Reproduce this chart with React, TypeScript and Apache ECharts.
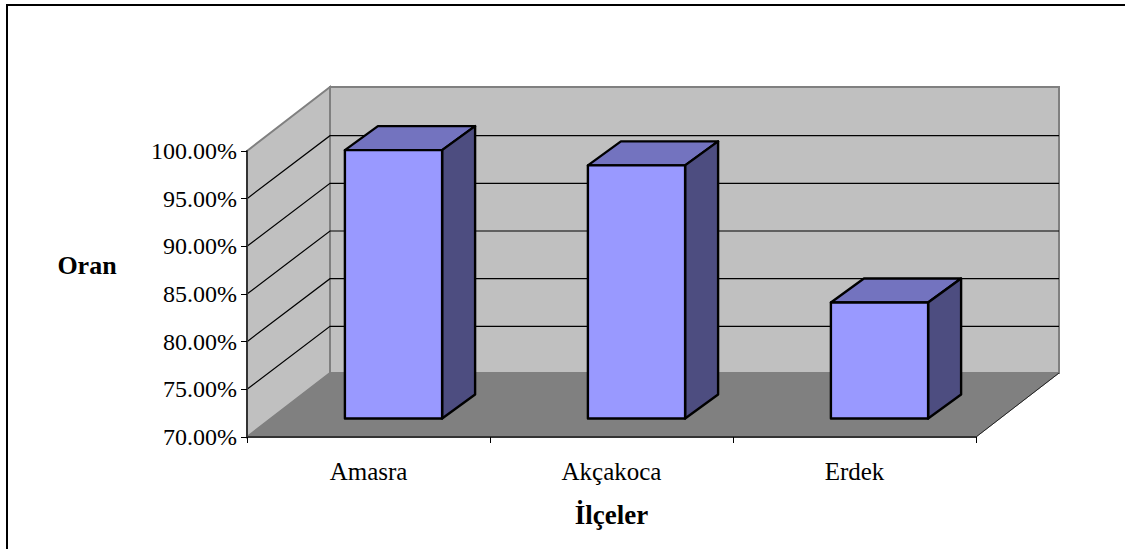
import React, { useEffect, useRef } from "react";
import * as echarts from "echarts";

const categories = ["Amasra", "Akçakoca", "Erdek"];
const values = [98.15, 96.55, 82.17];
const gridTicks = [75, 80, 85, 90, 95];
const yMin = 70;
const yMax = 100;
const yStep = 5;

const DX = 83;
const DY = -64;
const GRID_DY = -63;
const BAR_DX = 25;
const BAR_DY = -18.5;
const BAR_DEPTH_X = 33;
const BAR_DEPTH_Y = -24;
const FONT = '"Liberation Serif", "Times New Roman", serif';

export default function App() {
  const ref = useRef<HTMLDivElement>(null);
  useEffect(() => {
    const chart = echarts.init(ref.current!, undefined, { renderer: "svg" });
    chart.setOption({
      animation: false,
      backgroundColor: "#ffffff",
      grid: { left: 247, right: 149, top: 151, bottom: 112, containLabel: false },
      graphic: [
        {
          type: "polyline",
          shape: { points: [[7, 549], [7, 5], [1125, 5]] },
          style: { stroke: "#000", lineWidth: 2, fill: "none" },
          silent: true,
        },
        {
          type: "text",
          x: 87,
          y: 265,
          silent: true,
          style: {
            text: "Oran",
            fontFamily: FONT,
            fontSize: 26,
            fontWeight: "bold",
            fill: "#000",
            align: "center",
            verticalAlign: "middle",
          },
        },
      ],
      xAxis: {
        type: "category",
        data: categories,
        z: 6,
        name: "İlçeler",
        nameLocation: "middle",
        nameGap: 64,
        nameTextStyle: { fontFamily: FONT, fontSize: 27, fontWeight: "bold", color: "#000" },
        axisLine: { show: true, lineStyle: { color: "#333", width: 2 } },
        axisTick: { show: true, alignWithLabel: false, length: 6, lineStyle: { color: "#000" } },
        axisLabel: { fontFamily: FONT, fontSize: 25, color: "#000", margin: 22 },
      },
      yAxis: {
        type: "value",
        min: yMin,
        max: yMax,
        interval: yStep,
        z: 6,
        splitLine: { show: false },
        axisLine: { show: true, onZero: false, lineStyle: { color: "#333", width: 2 } },
        axisTick: { show: true, length: 6, lineStyle: { color: "#000" } },
        axisLabel: {
          fontFamily: FONT,
          fontSize: 24,
          color: "#000",
          margin: 10,
          formatter: (v: number) => v.toFixed(2) + "%",
        },
      },
      series: [
        {
          type: "custom",
          z: 1,
          silent: true,
          data: [[0, yMin]],
          renderItem: (params: any) => {
            const { x, y, width: w, height: h } = params.coordSys;
            const gray = "#808080";
            return {
              type: "group",
              children: [
                {
                  type: "polygon",
                  shape: { points: [[x + DX, y + DY], [x + w + DX, y + DY], [x + w + DX, y + h + DY], [x + DX, y + h + DY]] },
                  style: { fill: "#C0C0C0", stroke: gray, lineWidth: 2 },
                },
                {
                  type: "polygon",
                  shape: { points: [[x, y], [x + DX, y + DY], [x + DX, y + h + DY], [x, y + h]] },
                  style: { fill: "#C0C0C0", stroke: gray, lineWidth: 2 },
                },
                {
                  type: "polygon",
                  shape: { points: [[x, y + h], [x + DX, y + h + DY], [x + w + DX, y + h + DY], [x + w, y + h]] },
                  style: { fill: "#808080", stroke: gray, lineWidth: 1 },
                },
                {
                  type: "line",
                  shape: { x1: x + w, y1: y + h, x2: x + w + DX, y2: y + h + DY },
                  style: { stroke: "#222", lineWidth: 1 },
                },
              ],
            };
          },
        },
        {
          type: "custom",
          z: 2,
          silent: true,
          data: gridTicks.map((t) => [0, t]),
          renderItem: (params: any, api: any) => {
            const { x, width: w } = params.coordSys;
            const py = api.coord([0, api.value(1)])[1];
            return {
              type: "polyline",
              shape: { points: [[x, py], [x + DX, py + GRID_DY], [x + w + DX, py + GRID_DY]] },
              style: { stroke: "#000", lineWidth: 1.2, fill: "none" },
            };
          },
        },
        {
          type: "custom",
          z: 3,
          silent: true,
          data: values.map((v, i) => [i, v]),
          renderItem: (params: any, api: any) => {
            const top = api.coord([api.value(0), api.value(1)]);
            const base = api.coord([api.value(0), yMin]);
            const bw = api.size([1, 0])[0] * 0.4;
            const l = top[0] + BAR_DX - bw / 2;
            const r = l + bw;
            const t = top[1] + BAR_DY;
            const b = base[1] + BAR_DY;
            const stroke = { stroke: "#000", lineWidth: 2.4, lineJoin: "round" };
            return {
              type: "group",
              children: [
                {
                  type: "polygon",
                  shape: { points: [[l, t], [l + BAR_DEPTH_X, t + BAR_DEPTH_Y], [r + BAR_DEPTH_X, t + BAR_DEPTH_Y], [r, t]] },
                  style: { fill: "#7373BF", ...stroke },
                },
                {
                  type: "polygon",
                  shape: { points: [[r, t], [r + BAR_DEPTH_X, t + BAR_DEPTH_Y], [r + BAR_DEPTH_X, b + BAR_DEPTH_Y], [r, b]] },
                  style: { fill: "#4D4D80", ...stroke },
                },
                {
                  type: "polygon",
                  shape: { points: [[l, t], [r, t], [r, b], [l, b]] },
                  style: { fill: "#9999FF", ...stroke },
                },
              ],
            };
          },
        },
      ],
    });
    return () => chart.dispose();
  }, []);
  return <div ref={ref} style={{ position: "absolute", left: 0, top: 0, width: 1125, height: 549 }} />;
}
